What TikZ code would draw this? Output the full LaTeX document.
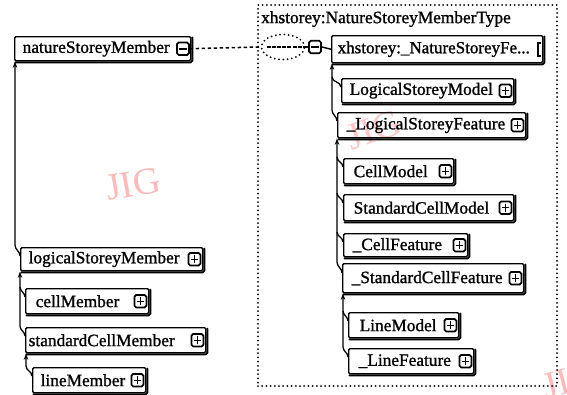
\documentclass[tikz,border=0pt]{standalone}
\usepackage{fontspec}
\setmainfont{Liberation Serif}
\newfontfamily\elfont{Liberation Serif}[FakeBold=1.2]
\usetikzlibrary{arrows.meta,calc,shapes.geometric}
\definecolor{markpink}{RGB}{255,185,185}
% element box content: fixed width, text set flush left
\newcommand\eltxt[3][8]{\hbox to #2pt{\hspace{#1pt}#3\hfil}}

\begin{document}
\begin{tikzpicture}[x=1pt,y=-1pt,
  elbox/.style={draw, line width=1.4pt, rounded corners=1.2pt, anchor=north west,
    inner sep=0pt, font=\elfont\fontsize{17.3}{20}\selectfont},
  shadowline/.style={line width=1.9pt, line cap=round, line join=round, rounded corners=1.5pt},
  btn/.style={draw, line width=1.7pt, rounded corners=1.8pt, minimum width=12pt,
    minimum height=12.5pt, inner sep=0pt, fill=white},
  btnplus/.style={btn, path picture={
      \draw[line width=1.3pt] ([xshift=-3.4pt]path picture bounding box.center) -- ([xshift=3.4pt]path picture bounding box.center);
      \draw[line width=1.3pt] ([yshift=-3.8pt]path picture bounding box.center) -- ([yshift=3.8pt]path picture bounding box.center);}},
  btnminus/.style={btn, path picture={
      \draw[line width=1.6pt] ([xshift=-3.6pt]path picture bounding box.center) -- ([xshift=3.6pt]path picture bounding box.center);}},
  trunk/.style={line width=1.3pt, {Stealth[length=6.5pt,width=4.5pt]}-},
  branch/.style={line width=1.3pt},
  dotframe/.style={draw, line width=2pt, line cap=round, dash pattern=on 0pt off 4.2pt},
  dashlink/.style={line width=1.5pt, dash pattern=on 3.4pt off 2.6pt},
  watermark/.style={text=markpink, font=\fontsize{38}{38}\selectfont}
]
\useasboundingbox (0,0) rectangle (567,394);

% faint watermarks
\node[watermark, rotate=10] (wm1) at (133,184) {JIG};
\node[watermark, rotate=18, opacity=0.8] (wm2) at (374,130) {JIG};
\begin{scope}
  \clip (0,0) rectangle (567,394);
  \node[watermark, rotate=15, anchor=west] (wm3) at (540,388) {JIG};
\end{scope}

% complex type frame
\node[dotframe, anchor=north west, minimum width=299pt, minimum height=381pt, inner sep=0pt] (typebox) at (257,4) {};
\node[anchor=west, inner sep=0pt, font=\elfont\fontsize{17.3}{20}\selectfont] (typelabel) at (261,19) {xhstorey:NatureStoreyMemberType};

% left column elements
\node[elbox, minimum height=24pt] (nsm) at (14,36)  {\eltxt{176}{natureStoreyMember}};
\node[elbox, minimum height=23pt] (lsm) at (20,247) {\eltxt{182}{logicalStoreyMember}};
\node[elbox, minimum height=25pt] (cm)  at (25,288) {\eltxt[10]{123}{cellMember}};
\node[elbox, minimum height=25pt] (scm) at (25,327) {\eltxt[3]{180}{standardCellMember}};
\node[elbox, minimum height=25pt] (lm)  at (32,367) {\eltxt{113}{lineMember}};

% right column elements
\node[elbox, minimum height=27pt] (nsf)  at (331,35)  {\eltxt[6]{211}{\fontsize{17}{20}\selectfont xhstorey:\_NatureStoreyFe...}};
\node[elbox, minimum height=24pt] (lsmo) at (341,78)  {\eltxt{172}{LogicalStoreyModel}};
\node[elbox, minimum height=25pt] (lsf)  at (337,112) {\eltxt[9]{188}{\_LogicalStoreyFeature}};
\node[elbox, minimum height=25pt] (cmo)  at (343,158) {\eltxt[10]{110}{CellModel}};
\node[elbox, minimum height=26pt] (scmo) at (343,194) {\eltxt[10]{170}{StandardCellModel}};
\node[elbox, minimum height=23pt] (cf)   at (343,233) {\eltxt[9]{124}{\_CellFeature}};
\node[elbox, minimum height=29pt] (scf)  at (342,263) {\eltxt[9]{181}{\_StandardCellFeature}};
\node[elbox, minimum height=25pt] (lmo)  at (348,312) {\eltxt[11]{110}{LineModel}};
\node[elbox, minimum height=25pt] (lf)   at (348,348) {\eltxt[10]{125}{\_LineFeature}};

% box shadows on the right and bottom edges
\foreach \n in {nsm,lsm,cm,scm,lm,nsf,lsmo,lsf,cmo,scmo,cf,scf,lmo,lf}
  \draw[shadowline] ([shift={(0.9,1.5)}]\n.north east) -- ([shift={(0.9,0.9)}]\n.south east) -- ([shift={(1.5,0.9)}]\n.south west);

% expand / collapse buttons
\node[btnminus] (bnsm) at ([xshift=-8.5pt]nsm.east) {};
\foreach \n in {lsm,cm,scm,lm,lsmo,lsf,cmo,scmo,cf,scf,lmo,lf}
  \node[btnplus] (b\n) at ([xshift=-9pt]\n.east) {};
% clipped button at the end of the type box
\draw[line width=1.8pt] ([shift={(-2.5,-6)}]nsf.east) -- ([shift={(-5.5,-6)}]nsf.east) -- ([shift={(-5.5,7)}]nsf.east) -- ([shift={(-2.5,7)}]nsf.east);

% reference to the complex type
\node[ellipse, draw, line width=2pt, line cap=round, dash pattern=on 0pt off 4.3pt,
  minimum width=43pt, minimum height=25pt, inner sep=0pt] (ell) at (283,47) {};
\node[btnminus] (btype) at (315,47) {};
\draw[dashlink] (bnsm.east) -- ([xshift=-1pt]ell.west);
\draw[line width=1.8pt, dash pattern=on 4pt off 1.2pt] ([xshift=6pt]ell.west) -- ([xshift=-3pt]ell.east);
\draw[line width=1.4pt] ([xshift=-3pt]ell.east) -- (btype.west);
\draw[line width=1.4pt] (btype.east) -- (nsf.west);

% left column connectors
\coordinate (l1) at ($(nsm.south west |- lsm.north west)+(1,-2)$);
\draw[trunk] ([xshift=1pt]nsm.south west) -- (l1) to[out=-90,in=90] ([yshift=-9pt]lsm.north west);
\coordinate (l2) at ($(lsm.south west |- scm.north west)+(0,-1)$);
\draw[trunk] (lsm.south west) -- (l2) to[out=-90,in=90] ([yshift=-9pt]scm.north west);
\draw[branch] ($(lsm.south west |- cm.north west)+(0,-1)$) to[out=-90,in=90] ([yshift=-9pt]cm.north west);
\coordinate (l3) at ($(scm.south west |- lm.north west)+(1,-1)$);
\draw[trunk] ([xshift=1pt]scm.south west) -- (l3) to[out=-90,in=90] ([yshift=-9pt]lm.north west);

% right column connectors
\coordinate (r1) at ($(nsf.south west |- lsf.north west)+(1,-2)$);
\draw[trunk] ([xshift=1pt]nsf.south west) -- (r1) to[out=-90,in=90] ([yshift=-9pt]lsf.north west);
\draw[branch] ($(nsf.south west |- lsmo.north west)+(1,-1)$) to[out=-90,in=90] ([yshift=-9pt]lsmo.north west);
\coordinate (r2) at ($(lsf.south west |- scf.north west)+(0,-1)$);
\draw[trunk] (lsf.south west) -- (r2) to[out=-90,in=90] ([yshift=-10pt]scf.north west);
\foreach \c in {cmo,scmo,cf}
  \draw[branch] ($(lsf.south west |- \c.north west)+(0,-1)$) to[out=-90,in=90] ([yshift=-9pt]\c.north west);
\coordinate (r3) at ($(scf.south west |- lf.north west)+(1,-1)$);
\draw[trunk] ([xshift=1pt]scf.south west) -- (r3) to[out=-90,in=90] ([yshift=-9pt]lf.north west);
\draw[branch] ($(scf.south west |- lmo.north west)+(1,-1)$) to[out=-90,in=90] ([yshift=-9pt]lmo.north west);
\end{tikzpicture}
\end{document}
